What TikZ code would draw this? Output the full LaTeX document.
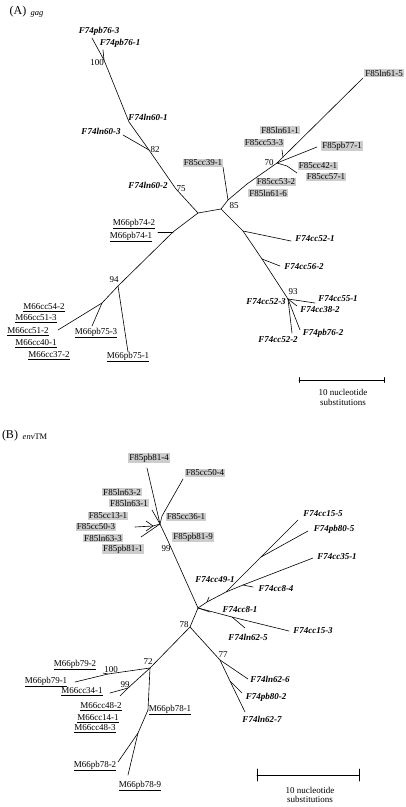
\documentclass[tikz,border=0pt]{standalone}
\usepackage{fontspec}
\setmainfont{Liberation Serif}
\definecolor{shade}{RGB}{205,205,205}
\newcommand{\lbl}{\fontsize{9}{9.5}\selectfont}
\tikzset{
  br/.style={line width=0.6pt, line cap=round, line join=round},
  fbox/.style={fill=shade, inner sep=1.2pt, font=\lbl},
  fbold/.style={inner sep=1pt, font=\lbl\bfseries\itshape},
  munder/.style={inner sep=1pt, font=\lbl},
  boot/.style={inner sep=0.5pt, font=\lbl},
  scaletext/.style={align=center, font=\lbl, inner sep=0pt},
  panel/.style={font=\fontsize{12}{12}\selectfont, inner sep=0pt},
  gene/.style={font=\fontsize{8.5}{8.5}\selectfont, inner sep=0pt}
}
\begin{document}
\begin{tikzpicture}[x=1pt,y=-1pt]
\useasboundingbox (0,0) rectangle (405,807);
% ---------------- Panel A ----------------
\node[panel] (pA) at (18,12) {(A)};
\node[gene] (gA) at (37,14) {\itshape gag};
% coordinates
\coordinate (tA1) at (92,38);
\coordinate (tA2) at (103,50);
\coordinate (nA100) at (104,60);
\coordinate (nA601) at (129,122);
\coordinate (tA3) at (123,135);
\coordinate (nA82) at (149,150);
\coordinate (nA75) at (176,189);
\coordinate (nAL) at (198,213);
\coordinate (nAR) at (221,209);
\coordinate (nA85) at (228,200);
\coordinate (tA4) at (223,167);
\coordinate (nAk) at (247,184);
\coordinate (nA70) at (277,163);
\coordinate (nAm) at (283,157);
\coordinate (tA5) at (282,150);
\coordinate (tA6) at (363,78);
\coordinate (tA7) at (317,147);
\coordinate (nAq) at (287,166);
\coordinate (tA8) at (297,173);
\coordinate (nA52) at (243,231);
\coordinate (tA9) at (291,241);
\coordinate (nA56) at (262,259);
\coordinate (tA10) at (280,266);
\coordinate (nA93) at (288,299);
\coordinate (tA11) at (315,303);
\coordinate (tA12) at (297,306);
\coordinate (tA13) at (300,330);
\coordinate (tA14) at (292,333);
\coordinate (nA74) at (173,232);
\coordinate (tA15) at (158,232);
\coordinate (nA94) at (118,286);
\coordinate (tA16) at (128,352);
\coordinate (nAb) at (102,303);
\coordinate (tA17) at (92,326);
\coordinate (tA18) at (58,330);
% branches
\draw[br] (tA1) -- (nA100) -- (nA601) -- (nA82) -- (nA75) -- (nAL) -- (nAR);
\draw[br] (tA2) -- (nA100);
\draw[br] (tA3) -- (nA82);
\draw[br] (nAR) -- (nA85) -- (nAk) -- (nA70) -- (nAm) -- (tA6);
\draw[br] (nAm) -- (tA5);
\draw[br] (nA70) -- (tA7);
\draw[br] (nA70) -- (nAq) -- (tA8);
\draw[br] (nA85) -- (tA4);
\draw[br] (nAR) -- (nA52) -- (nA56) -- (nA93);
\draw[br] (nA52) -- (tA9);
\draw[br] (nA56) -- (tA10);
\draw[br] (nA93) -- (tA11);
\draw[br] (nA93) -- (tA12);
\draw[br] (nA93) -- (tA13);
\draw[br] (nA93) -- (tA14);
\draw[br] (nAL) -- (nA74) -- (nA94) -- (nAb) -- (tA18);
\draw[br] (nA74) -- (tA15);
\draw[br] (nA94) -- (tA16);
\draw[br] (nAb) -- (tA17);
% labels
\node[fbold] (lA1) at (99,31) {F74pb76-3};
\node[fbold] (lA2) at (120,43) {F74pb76-1};
\node[boot] (bA100) at (97,63) {100};
\node[fbold] (lA3) at (148,117) {F74ln60-1};
\node[fbold] (lA4) at (101,131) {F74ln60-3};
\node[boot] (bA82) at (155,150) {82};
\node[fbold] (lA5) at (148,185) {F74ln60-2};
\node[boot] (bA75) at (181,189) {75};
\node[fbox] (lA6) at (203,163) {F85cc39-1};
\node[boot] (bA85) at (234,206) {85};
\node[fbox] (lA7) at (384,73) {F85ln61-5};
\node[fbox] (lA8) at (280,130) {F85ln61-1};
\node[fbox] (lA9) at (264,143) {F85cc53-3};
\node[fbox] (lA10) at (342,146) {F85pb77-1};
\node[boot] (bA70) at (269,163) {70};
\node[fbox] (lA11) at (318,166) {F85cc42-1};
\node[fbox] (lA12) at (326,177) {F85cc57-1};
\node[fbox] (lA13) at (276,182) {F85cc53-2};
\node[fbox] (lA14) at (268,193) {F85ln61-6};
\node[fbold] (lA15) at (315,239) {F74cc52-1};
\node[fbold] (lA16) at (304,267) {F74cc56-2};
\node[boot] (bA93) at (293,292) {93};
\node[fbold] (lA17) at (266,302) {F74cc52-3};
\node[fbold] (lA18) at (338,299) {F74cc55-1};
\node[fbold] (lA19) at (320,310) {F74cc38-2};
\node[fbold] (lA20) at (323,333) {F74pb76-2};
\node[fbold] (lA21) at (278,340) {F74cc52-2};
\node[munder] (lA22) at (134,224) {\underline{M66pb74-2}};
\node[munder] (lA23) at (131,237) {\underline{M66pb74-1}};
\node[boot] (bA94) at (114,280) {94};
\node[munder] (lA24) at (96,333) {\underline{M66pb75-3}};
\node[munder] (lA25) at (128,357) {\underline{M66pb75-1}};
\node[munder] (lA26) at (44,308) {\underline{M66cc54-2}};
\node[munder] (lA27) at (36,319) {\underline{M66cc51-3}};
\node[munder] (lA28) at (28,332) {\underline{M66cc51-2}};
\node[munder] (lA29) at (36,344) {\underline{M66cc40-1}};
\node[munder] (lA30) at (49,356) {\underline{M66cc37-2}};
% scale bar A
\coordinate (sA1) at (299,380);
\coordinate (sA2) at (384,380);
\draw[br] (sA1) -- (sA2);
\draw[br] ([yshift=-2.5pt]sA1) -- ([yshift=2.5pt]sA1);
\draw[br] ([yshift=-2.5pt]sA2) -- ([yshift=2.5pt]sA2);
\node[scaletext] (sAt) at (343,397.5) {10 nucleotide\\substitutions};
% ---------------- Panel B ----------------
\node[panel] (pB) at (10,436) {(B)};
\node[gene] (gB) at (35,437) {\textit{env}TM};
\coordinate (tB1) at (147,468);
\coordinate (nBt) at (160,524);
\coordinate (nB36) at (162,516);
\coordinate (tB2) at (183,479);
\coordinate (tB3) at (152,510);
\coordinate (nBa) at (153,526);
\coordinate (tBa1) at (135,527);
\coordinate (tBa2) at (146,521);
\coordinate (tBa3) at (146,531);
\coordinate (tB5) at (141,537);
\coordinate (nB99) at (168,541);
\coordinate (nBC) at (198,608);
\coordinate (nB49) at (207,602);
\coordinate (tB49) at (209,597);
\coordinate (nB35) at (226,592);
\coordinate (nB80) at (261,557);
\coordinate (tB15) at (298,520);
\coordinate (tB35) at (313,558);
\coordinate (nB84) at (243,585);
\coordinate (tB84) at (253,587);
\coordinate (tB80) at (308,531);
\coordinate (tB81) at (210,612);
\coordinate (nB62) at (232,617);
\coordinate (tB153) at (289,631);
\coordinate (tB625) at (245,628);
\coordinate (nB78) at (190,627);
\coordinate (nB77) at (220,660);
\coordinate (tB626) at (248,679);
\coordinate (nBq) at (230,681);
\coordinate (tB802) at (242,693);
\coordinate (tB627) at (245,712);
\coordinate (nB72) at (150,668);
\coordinate (nB100) at (108,674);
\coordinate (tB791) at (75,682);
\coordinate (tB792) at (103,673);
\coordinate (nB99b) at (128,688);
\coordinate (tB34) at (110,693);
\coordinate (tB48) at (120,696);
\coordinate (nB781) at (148,710);
\coordinate (nB7x) at (138,733);
\coordinate (tB782) at (118,762);
\coordinate (tB789) at (128,775);
% branches
\draw[br] (tB1) -- (nBt) -- (nB99) -- (nBC);
\draw[br] (tB2) -- (nB36) -- (nBt);
\draw[br] (tB3) -- (nBt);
\draw[br] (tBa1) -- (nBa) -- (nBt);
\draw[br] (tBa2) -- (nBa);
\draw[br] (tBa3) -- (nBa);
\draw[br] (tB5) -- (nBt);
\draw[br] (nBC) -- (nB49) -- (nB35) -- (nB80) -- (tB15);
\draw[br] (nB49) -- (tB49);
\draw[br] (nB35) -- (nB84) -- (tB35);
\draw[br] (nB84) -- (tB84);
\draw[br] (nB80) -- (tB80);
\draw[br] (nBC) -- (tB81);
\draw[br] (nBC) -- (nB62) -- (tB153);
\draw[br] (nB62) -- (tB625);
\draw[br] (nBC) -- (nB78) -- (nB77) -- (tB626);
\draw[br] (nB77) -- (nBq) -- (tB802);
\draw[br] (nBq) -- (tB627);
\draw[br] (nB78) -- (nB72) -- (nB100) -- (tB791);
\draw[br] (nB100) -- (tB792);
\draw[br] (nB72) -- (nB99b) -- (tB34);
\draw[br] (nB99b) -- (tB48);
\draw[br] (nB72) -- (nB781) -- (nB7x) -- (tB782);
\draw[br] (nB7x) -- (tB789);
% labels
\node[fbox] (lB1) at (149,458) {F85pb81-4};
\node[fbox] (lB2) at (205,473) {F85cc50-4};
\node[fbox] (lB3) at (122,492) {F85ln63-2};
\node[fbox] (lB4) at (129,503) {F85ln63-1};
\node[fbox] (lB5) at (186,517) {F85cc36-1};
\node[fbox] (lB6) at (108,516) {F85cc13-1};
\node[fbox] (lB7) at (96,527) {F85cc50-3};
\node[fbox] (lB8) at (103,538) {F85ln63-3};
\node[fbox] (lB9) at (123,549) {F85pb81-1};
\node[fbox] (lB10) at (193,537) {F85pb81-9};
\node[boot] (bB99) at (166,549) {99};
\node[fbold] (lB11) at (323,514) {F74cc15-5};
\node[fbold] (lB12) at (334,529) {F74pb80-5};
\node[fbold] (lB13) at (337,557) {F74cc35-1};
\node[fbold] (lB14) at (215,580) {F74cc49-1};
\node[fbold] (lB15) at (276,589) {F74cc8-4};
\node[fbold] (lB16) at (240,610) {F74cc8-1};
\node[fbold] (lB17) at (313,631) {F74cc15-3};
\node[fbold] (lB18) at (248,637) {F74ln62-5};
\node[boot] (bB78) at (184,625) {78};
\node[boot] (bB77) at (223,655) {77};
\node[fbold] (lB19) at (270,679) {F74ln62-6};
\node[fbold] (lB20) at (266,697) {F74pb80-2};
\node[fbold] (lB21) at (262,719) {F74ln62-7};
\node[boot] (bB72) at (148,662) {72};
\node[boot] (bB100) at (111,670) {100};
\node[munder] (lB22) at (75,665) {\underline{M66pb79-2}};
\node[munder] (lB23) at (46,682) {\underline{M66pb79-1}};
\node[boot] (bB99b) at (125,685) {99};
\node[munder] (lB24) at (82,692) {\underline{M66cc34-1}};
\node[munder] (lB25) at (101,707) {\underline{M66cc48-2}};
\node[munder] (lB26) at (98,719) {\underline{M66cc14-1}};
\node[munder] (lB27) at (95,729) {\underline{M66cc48-3}};
\node[munder] (lB28) at (170,710) {\underline{M66pb78-1}};
\node[munder] (lB29) at (95,766) {\underline{M66pb78-2}};
\node[munder] (lB30) at (140,786) {\underline{M66pb78-9}};
% scale bar B
\coordinate (sB1) at (257,775);
\coordinate (sB2) at (359,775);
\draw[br] (sB1) -- (sB2);
\draw[br] ([yshift=-6pt]sB1) -- ([yshift=6pt]sB1);
\draw[br] ([yshift=-6pt]sB2) -- ([yshift=6pt]sB2);
\node[scaletext] (sBt) at (310,795) {10 nucleotide\\substitutions};
\end{tikzpicture}
\end{document}
